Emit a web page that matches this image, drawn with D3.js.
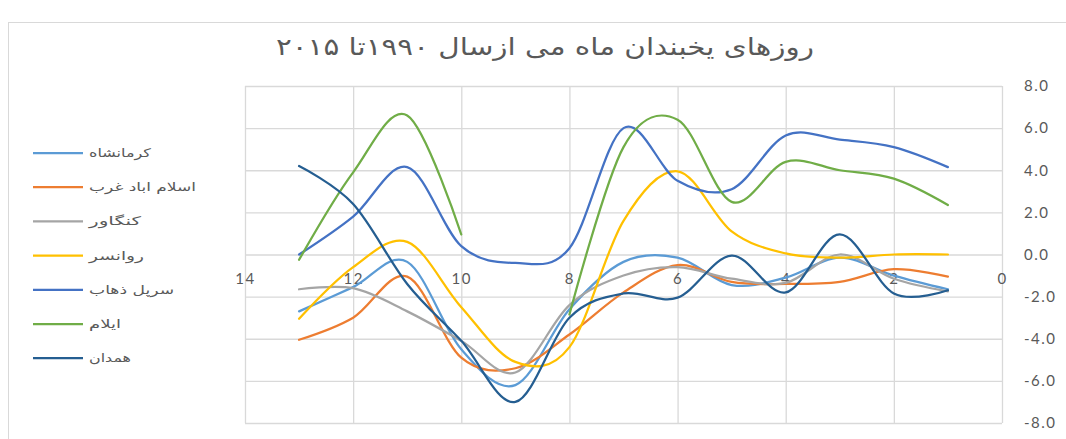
<!DOCTYPE html>
<html>
<head>
<meta charset="utf-8">
<script src="https://cdn.jsdelivr.net/npm/d3@7"></script>
<style>
  body { margin: 0; background: #fff; }
  svg { display: block; }
</style>
</head>
<body>
<svg id="chart" width="1066" height="439"></svg>
<script>
// day index (x axis runs 14 -> 0)
const days = [13, 12, 11, 10, 9, 8, 7, 6, 5, 4, 3, 2, 1];

const kermanshah = [-2.7, -1.55, -0.35, -4.5, -6.2, -2.6, -0.35, -0.15, -1.45, -1.1, -0.15, -1.0, -1.65];
const eslamabad  = [-4.05, -3.0, -1.05, -4.9, -5.4, -3.8, -1.8, -0.5, -1.3, -1.4, -1.3, -0.7, -1.05];
const kangavar   = [-1.65, -1.6, -2.7, -4.1, -5.6, -2.4, -1.0, -0.6, -1.15, -1.35, 0.0, -1.15, -1.75];
const ravansar   = [-3.05, -0.6, 0.6, -2.5, -5.1, -4.4, 1.6, 3.95, 1.1, 0.05, -0.15, 0.0, 0.0];
const sarpol     = [0.0, 1.8, 4.15, 0.4, -0.4, 0.3, 6.0, 3.5, 3.1, 5.65, 5.45, 5.1, 4.15];
const ilam       = [-0.25, 3.9, 6.6, 0.95, null, -2.85, 5.1, 6.4, 2.5, 4.4, 4.0, 3.6, 2.35];
const hamedan    = [4.2, 2.4, -1.4, -4.1, -7.0, -3.0, -1.85, -2.05, -0.05, -1.8, 0.95, -1.85, -1.7];

const names = ['کرمانشاه', 'اسلام اباد غرب', 'کنگاور', 'روانسر', 'سرپل ذهاب', 'ایلام', 'همدان'];
const colors = ['#5B9BD5', '#ED7D31', '#A5A5A5', '#FFC000', '#4472C4', '#70AD47', '#255E91'];
const legendWidths = [62, 107, 52, 55, 85, 32, 42];
const seriesValues = [kermanshah, eslamabad, kangavar, ravansar, sarpol, ilam, hamedan];

const xTicks = [14, 12, 10, 8, 6, 4, 2, 0];
const yTicks = [-8, -6, -4, -2, 0, 2, 4, 6, 8];

const title = 'روزهای یخبندان ماه می ازسال ۱۹۹۰تا ۲۰۱۵';

const pLeft = 245, pRight = 1002, pTop = 86, pBottom = 423;
const svg = d3.select('#chart');

// chart area border
svg.append('rect')
  .attr('x', 8.5).attr('y', 22.5)
  .attr('width', 1080).attr('height', 440)
  .attr('fill', '#fff').attr('stroke', '#D9D9D9');

const x = d3.scaleLinear().domain([14, 0]).range([pLeft, pRight]);
const y = d3.scaleLinear().domain([-8, 8]).range([pBottom, pTop]);

// gridlines
const gx = svg.append('g')
  .attr('transform', `translate(0,${pBottom})`)
  .call(d3.axisBottom(x).tickValues(xTicks).tickSize(-(pBottom - pTop)).tickFormat(''));
const gy = svg.append('g')
  .attr('transform', `translate(${pRight},0)`)
  .call(d3.axisRight(y).tickValues(yTicks).tickSize(-(pRight - pLeft)).tickFormat(''));
[gx, gy].forEach(g => {
  g.select('.domain').remove();
  g.selectAll('line').attr('stroke', '#D9D9D9').attr('stroke-width', 1.3);
});

const fmt = d3.formatLocale({decimal: '.', thousands: ',', grouping: [3], currency: ['', ''], minus: '-'}).format('.1f');

const yLab = svg.append('g')
  .attr('transform', `translate(${pRight},0)`)
  .call(d3.axisRight(y).tickValues(yTicks).tickSize(0).tickPadding(22).tickFormat(fmt));
yLab.select('.domain').remove();
yLab.selectAll('text')
  .attr('fill', '#595959')
  .style('font-family', 'Lato, "Open Sans", sans-serif')
  .style('font-size', '15px')
  .style('letter-spacing', '1.5px');

const xLab = svg.append('g')
  .attr('transform', `translate(0,${y(0)})`)
  .call(d3.axisBottom(x).tickValues(xTicks).tickSize(0).tickPadding(19).tickFormat(d3.format('d')));
xLab.select('.domain').remove();
xLab.selectAll('text')
  .attr('fill', '#595959')
  .style('font-family', 'Lato, "Open Sans", sans-serif')
  .style('font-size', '15px')
  .style('letter-spacing', '1.5px');

// smoothed lines like Excel
const line = d3.line()
  .defined(d => d.v !== null)
  .x(d => x(d.day))
  .y(d => y(d.v))
  .curve(d3.curveCardinal.tension(0));

seriesValues.forEach((vals, i) => {
  const pts = days.map((d, j) => ({day: d, v: vals[j]}));
  svg.append('path')
    .datum(pts)
    .attr('d', line)
    .attr('fill', 'none')
    .attr('stroke', colors[i])
    .attr('stroke-width', 2.25)
    .attr('stroke-linecap', 'round')
    .attr('stroke-linejoin', 'round');
});

// legend
const legend = svg.append('g');
names.forEach((n, i) => {
  const ly = 153 + i * 34.2;
  legend.append('line')
    .attr('x1', 33).attr('x2', 83).attr('y1', ly).attr('y2', ly)
    .attr('stroke', colors[i]).attr('stroke-width', 2.25);
  legend.append('text')
    .attr('x', 89).attr('y', ly + 4)
    .attr('textLength', legendWidths[i])
    .attr('lengthAdjust', 'spacingAndGlyphs')
    .attr('fill', '#595959')
    .style('font-family', '"DejaVu Sans", sans-serif')
    .style('font-size', '12px')
    .text(n);
});

// title
svg.append('text')
  .attr('x', 545).attr('y', 55)
  .attr('text-anchor', 'middle')
  .attr('textLength', 538)
  .attr('lengthAdjust', 'spacingAndGlyphs')
  .attr('fill', '#595959')
  .style('font-family', '"DejaVu Sans", sans-serif')
  .style('font-size', '24px')
  .text(title);
</script>
</body>
</html>
